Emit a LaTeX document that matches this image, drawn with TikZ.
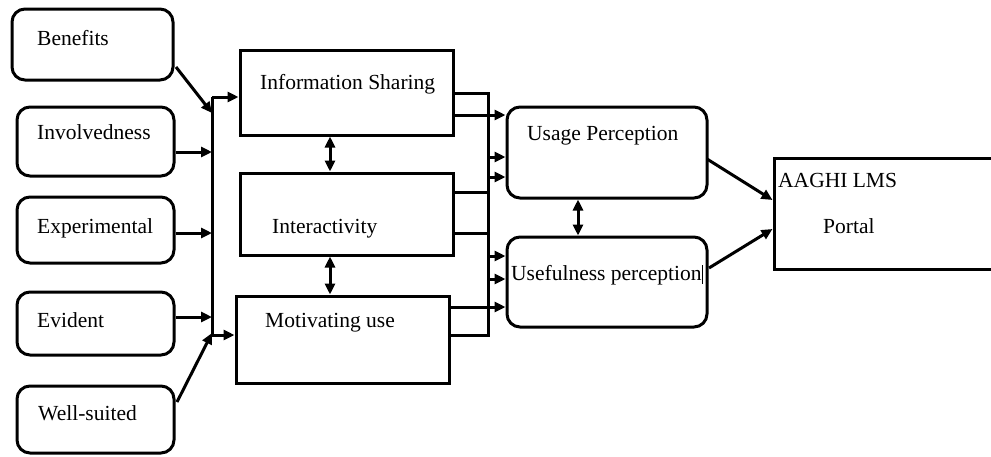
\documentclass[tikz,border=0pt]{standalone}
\usepackage{fontspec}
\setmainfont{Liberation Serif}
\usetikzlibrary{arrows.meta,calc}
\begin{document}
\begin{tikzpicture}[x=1pt,y=-1pt,
 rbox/.style={draw,line width=3pt,rounded corners=13pt,inner sep=0pt},
 sbox/.style={draw,line width=3pt,inner sep=0pt},
 lbl/.style={anchor=base west,inner sep=0pt,font=\fontsize{21.5}{24}\selectfont},
 ln/.style={line width=3pt},
 arr/.style={line width=3pt,-{Triangle[length=11pt,width=10pt]}},
 darr/.style={line width=3pt,{Triangle[length=11pt,width=10pt]}-{Triangle[length=11pt,width=10pt]}}]
\useasboundingbox (0,0) rectangle (991,456);
% left boxes
\node[rbox,minimum width=161pt,minimum height=71pt] (ben) at (92.5,44.5) {};
\node[rbox,minimum width=157pt,minimum height=69pt] (inv) at (95.5,141.5) {};
\node[rbox,minimum width=157pt,minimum height=66pt] (exp) at (95.5,230) {};
\node[rbox,minimum width=157pt,minimum height=63pt] (evi) at (95.5,323.5) {};
\node[rbox,minimum width=157pt,minimum height=67pt] (wel) at (95.5,419.5) {};
\node[lbl] (tben) at (37,45) {Benefits};
\node[lbl] (tinv) at (37,139) {Involvedness};
\node[lbl] (texp) at (37,233) {Experimental};
\node[lbl] (tevi) at (37,327) {Evident};
\node[lbl] (twel) at (38,420) {Well-suited};
% middle boxes
\node[sbox,minimum width=213pt,minimum height=85pt] (info) at (346.5,92.5) {};
\node[sbox,minimum width=213pt,minimum height=82pt] (inter) at (346.5,214) {};
\node[sbox,minimum width=213pt,minimum height=87pt] (mot) at (342.5,339.5) {};
\node[lbl] (tinfo) at (260,89) {Information Sharing};
\node[lbl] (tinter) at (272,233) {Interactivity};
\node[lbl] (tmot) at (265,327) {Motivating use};
% right boxes
\node[rbox,minimum width=200pt,minimum height=91pt] (usage) at (607,152.5) {};
\node[rbox,minimum width=200pt,minimum height=90pt] (usef) at (607,282) {};
\node[sbox,minimum width=226pt,minimum height=111pt] (portal) at (887,213.5) {};
\node[lbl] (tusage) at (527,140) {Usage Perception};
\node[lbl] (tusef) at (511,280) {Usefulness perception};
\node[lbl] (tp1) at (778,187) {AAGHI LMS};
\node[lbl] (tp2) at (823,233) {Portal};
\draw[line width=0.8pt] (702,265) -- (702,284);
% left bus
\coordinate (la) at (212,97);
\coordinate (lb) at (212,113);
\coordinate (lc) at (212,152);
\coordinate (ld) at (212,233);
\coordinate (le) at (212,317);
\coordinate (lf) at (212,333);
\coordinate (lg) at (212,335);
\coordinate (bs) at (176,67);
\coordinate (ws) at (177,402);
\draw[ln] (la) -- (lg);
\draw[arr] (la) -- (la -| info.west);
\draw[arr] (lg) -- (lg -| mot.west);
\draw[arr] (bs) -- (lb);
\draw[arr] (inv.east |- lc) -- (lc);
\draw[arr] (exp.east |- ld) -- (ld);
\draw[arr] (evi.east |- le) -- (le);
\draw[arr] (ws) -- (lf);
% right bus
\coordinate (ra) at (488,93);
\coordinate (ri) at (488,115);
\coordinate (rb) at (488,157);
\coordinate (rc) at (488,177);
\coordinate (rd) at (488,192);
\coordinate (re) at (488,233);
\coordinate (rf) at (488,256);
\coordinate (rg) at (488,279);
\coordinate (rj) at (488,307);
\coordinate (rh) at (488,335);
\draw[ln] (info.east |- ra) -- (ra) -- (rh) -- (mot.east |- rh);
\draw[arr] (info.east |- ri) -- (usage.west |- ri);
\draw[arr] (rb) -- (rb -| usage.west);
\draw[arr] (rc) -- (rc -| usage.west);
\draw[ln] (inter.east |- rd) -- (rd);
\draw[ln] (inter.east |- re) -- (re);
\draw[arr] (rf) -- (rf -| usef.west);
\draw[arr] (rg) -- (rg -| usef.west);
\draw[arr] (mot.east |- rj) -- (usef.west |- rj);
% double arrows
\coordinate (dx1) at (330,150);
\coordinate (dx2) at (578,215);
\draw[darr] (info.south -| dx1) -- (inter.north -| dx1);
\draw[darr] (inter.south -| dx1) -- (mot.north -| dx1);
\draw[darr] (usage.south -| dx2) -- (usef.north -| dx2);
% to portal
\coordinate (p1s) at (707,159);
\coordinate (p1e) at (774,200);
\coordinate (p2s) at (709,268);
\coordinate (p2e) at (774,229);
\draw[arr] (p1s) -- (portal.west |- p1e);
\draw[arr] (p2s) -- (portal.west |- p2e);
\end{tikzpicture}
\end{document}
